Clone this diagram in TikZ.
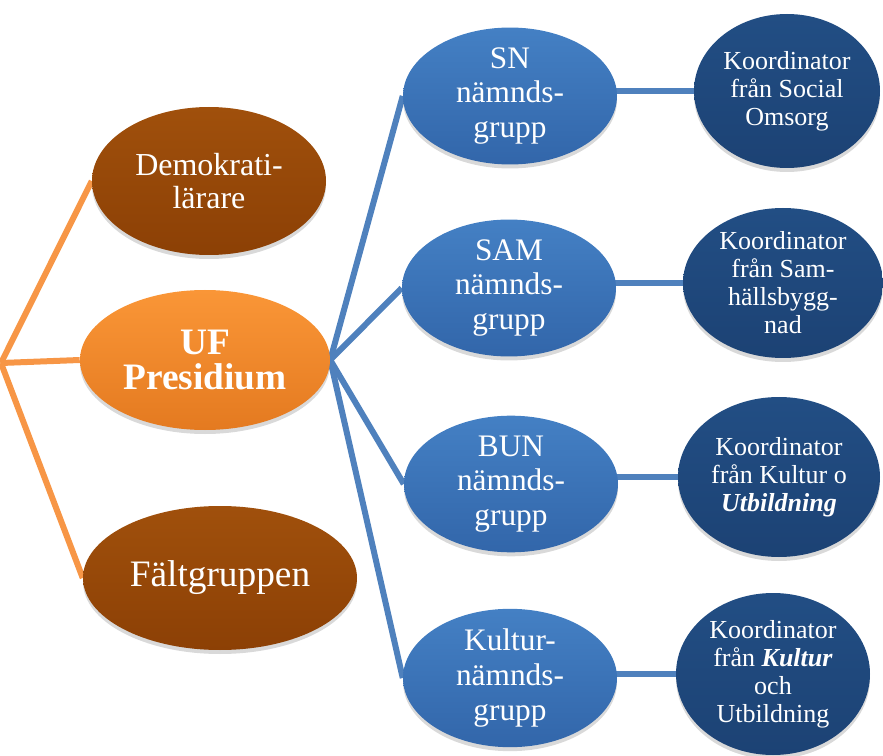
\documentclass[tikz,border=0pt]{standalone}
\usepackage{fontspec}
\setmainfont{Liberation Serif}
\usetikzlibrary{shapes.geometric,shadows,backgrounds}
\definecolor{browntop}{RGB}{160,80,12}
\definecolor{brownbot}{RGB}{140,64,5}
\definecolor{orangetop}{RGB}{250,150,55}
\definecolor{orangebot}{RGB}{228,122,32}
\definecolor{orangeline}{RGB}{247,150,70}
\definecolor{bluetop}{RGB}{68,128,196}
\definecolor{bluebot}{RGB}{50,102,170}
\definecolor{navytop}{RGB}{34,78,132}
\definecolor{navybot}{RGB}{28,66,116}
\definecolor{blueline}{RGB}{79,129,189}
\tikzset{
  oval/.style={ellipse, inner sep=0pt, align=center, text=white,
    drop shadow={opacity=0.3, shadow xshift=0pt, shadow yshift=-3pt}},
  brownoval/.style={oval, top color=browntop, bottom color=brownbot,
    font=\fontsize{24}{24.8}\selectfont},
  ufoval/.style={oval, top color=orangetop, bottom color=orangebot,
    font=\bfseries\fontsize{28}{26.5}\selectfont},
  blueoval/.style={oval, top color=bluetop, bottom color=bluebot,
    minimum width=160.5pt, minimum height=100.5pt,
    font=\fontsize{23.5}{26}\selectfont},
  navyoval/.style={oval, top color=navytop, bottom color=navybot,
    font=\fontsize{19.5}{21}\selectfont},
  orangelink/.style={draw=orangeline, line width=4.5pt},
  bluelink/.style={draw=blueline, line width=4.5pt},
}
\begin{document}
\begin{tikzpicture}[x=0.75pt,y=-0.75pt]
\useasboundingbox (0,0) rectangle (883,756);
% left column
\node[brownoval, minimum width=175.5pt, minimum height=111pt] (dem) at (209,181) {Demokrati-\\lärare};
\node[ufoval, minimum width=187.5pt, minimum height=105pt] (uf) at (205,360) {UF\\Presidium};
\node[brownoval, minimum width=205.5pt, minimum height=108pt, font=\fontsize{28}{30}\selectfont] (falt) at (220,578) {Fältgruppen};
\coordinate (root) at (1,363);
% middle column
\node[blueoval] (sn) at (510,96) {SN\\nämnds-\\grupp};
\node[blueoval] (sam) at (509,288) {SAM\\nämnds-\\grupp};
\node[blueoval] (bun) at (511,484) {BUN\\nämnds-\\grupp};
\node[blueoval] (kul) at (510,678) {Kultur-\\nämnds-\\grupp};
% right column
\node[navyoval, minimum width=139.5pt, minimum height=115.5pt] (k1) at (787,91) {Koordinator\\från Social\\Omsorg};
\node[navyoval, minimum width=150pt, minimum height=112.5pt] (k2) at (783,283) {Koordinator\\från Sam-\\hällsbygg-\\nad};
\node[navyoval, minimum width=151.5pt, minimum height=120pt] (k3) at (779,477) {Koordinator\\från Kultur o\\\textbf{\textit{Utbildning}}};
\node[navyoval, minimum width=145.5pt, minimum height=121.5pt] (k4) at (773,674) {Koordinator\\från \textbf{\textit{Kultur}}\\och\\Utbildning};
\begin{scope}[on background layer]
\draw[orangelink] (root) -- (dem.west);
\draw[orangelink] (root) -- (uf.west);
\draw[orangelink] (root) -- (falt.west);
\draw[bluelink] (uf.east) -- (sn.west);
\draw[bluelink] (uf.east) -- (sam.west);
\draw[bluelink] (uf.east) -- (bun.west);
\draw[bluelink] (uf.east) -- (kul.west);
\draw[bluelink] (sn.center |- k1.west) -- (k1.west);
\draw[bluelink] (sam.center |- k2.west) -- (k2.west);
\draw[bluelink] (bun.center |- k3.west) -- (k3.west);
\draw[bluelink] (kul.center |- k4.west) -- (k4.west);
\end{scope}
\end{tikzpicture}
\end{document}
